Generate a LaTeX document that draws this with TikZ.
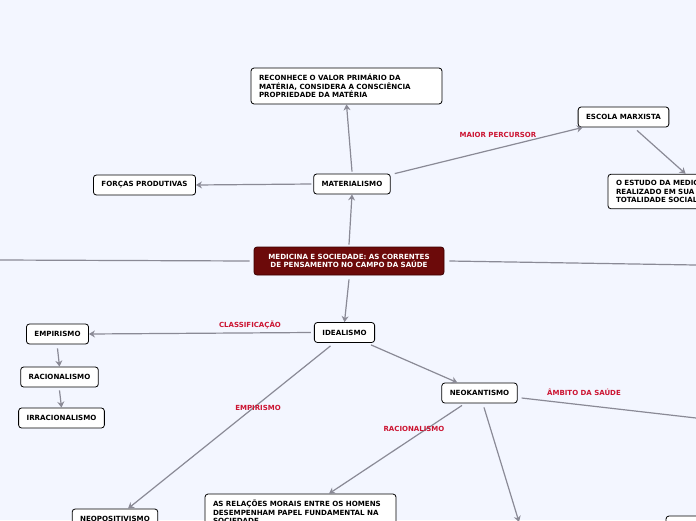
\documentclass[tikz,border=0pt]{standalone}
\usepackage{fontspec}
\setmainfont{DejaVu Sans}
\usetikzlibrary{arrows.meta,calc}
\definecolor{bg}{RGB}{243,246,255}
\definecolor{linec}{RGB}{138,138,150}
\definecolor{lblc}{RGB}{204,20,50}
\definecolor{cenfill}{RGB}{108,10,10}
\definecolor{cenborder}{RGB}{60,0,0}
\begin{document}
\begin{tikzpicture}[x=1pt,y=-1pt,
  font=\bfseries\fontsize{7.1}{8.6}\selectfont,
  box/.style={draw=black, fill=white, rounded corners=3pt, line width=0.8pt, inner xsep=8pt, minimum height=20pt},
  mbox/.style={box, text width=175pt, align=left, inner ysep=6pt},
  cenbox/.style={draw=cenborder, fill=cenfill, text=white, rounded corners=3pt, line width=0.8pt, text width=174pt, align=center, minimum height=28pt, inner xsep=8pt},
  conn/.style={draw=linec, line width=1.2pt, -{Stealth[length=6pt,width=7pt]}},
  plain/.style={draw=linec, line width=1.2pt},
  lbl/.style={text=lblc, font=\bfseries\fontsize{7}{8}\selectfont, inner sep=0pt}]
\useasboundingbox (0,0) rectangle (696,520);
\fill[bg] (0,0) rectangle (696,520);
\clip (0,0) rectangle (696,520);

% nodes
\node[cenbox] (cen) at (349,261) {MEDICINA E SOCIEDADE: AS CORRENTES\\DE PENSAMENTO NO CAMPO DA SAÚDE};
\node[box] (mat) at (352,184) {MATERIALISMO};
\node[mbox] (rec) at (346.5,86) {RECONHECE O VALOR PRIMÁRIO DA\\MATÉRIA, CONSIDERA A CONSCIÊNCIA\\PROPRIEDADE DA MATÉRIA};
\node[box] (for) at (144.5,185) {FORÇAS PRODUTIVAS};
\node[box] (esc) at (623.5,117) {ESCOLA MARXISTA};
\node[mbox] (est) at (703.5,191.5) {O ESTUDO DA MEDICINA DEVE SER\\REALIZADO EM SUA\\TOTALIDADE SOCIAL};
\node[box] (ide) at (344.5,332.5) {IDEALISMO};
\node[box] (emp) at (57.5,334) {EMPIRISMO};
\node[box] (rac) at (59.5,377) {RACIONALISMO};
\node[box] (irr) at (61.5,418) {IRRACIONALISMO};
\node[box] (neok) at (479.5,393) {NEOKANTISMO};
\node[box] (neop) at (115,519) {NEOPOSITIVISMO};
\node[mbox] (rel) at (300.5,512) {AS RELAÇÕES MORAIS ENTRE OS HOMENS\\DESEMPENHAM PAPEL FUNDAMENTAL NA\\SOCIEDADE};
\node[box, minimum width=100pt] (brb) at (716,526) {};

\coordinate (leftend) at (0,260);
\coordinate (rightend) at (696,265);
\coordinate (neokright) at (696,418);
\coordinate (neokdown) at (519,522);

% connectors
\draw[conn] ([yshift=2pt]cen.north) -- (mat.south);
\draw[conn] ([yshift=2pt]mat.north) -- (rec.south);
\draw[conn] ([xshift=-2pt]mat.west) -- (for.east);
\draw[conn] ([xshift=4pt]mat.north east) -- ([xshift=5pt]esc.south west);
\draw[conn] ([xshift=13.5pt,yshift=-3pt]esc.south) -- ([xshift=78pt]est.north west);
\draw[plain] ([xshift=-4pt]cen.west) -- (leftend);
\draw[plain] ([xshift=5pt]cen.east) -- (rightend);
\draw[conn] ([yshift=-4pt]cen.south) -- (ide.north);
\draw[conn] ([xshift=-3pt]ide.west) -- (emp.east);
\draw[conn] ([yshift=-4pt]emp.south) -- (rac.north);
\draw[conn] ([yshift=-3pt]rac.south) -- (irr.north);
\draw[conn] ([xshift=-14pt,yshift=-3pt]ide.south) -- ([xshift=13pt]neop.north);
\draw[conn] ([xshift=-4pt,yshift=-2pt]ide.south east) -- ([xshift=16pt]neok.north west);
\draw[conn] ([xshift=-17.5pt,yshift=-2pt]neok.south) -- ([xshift=28.5pt]rel.north);
\draw[conn] ([xshift=4.5pt,yshift=-4pt]neok.south) -- (neokdown);
\draw[plain] ([xshift=4pt,yshift=-5pt]neok.east) -- (neokright);

% labels
\node[lbl] (l1) at (498,135) {MAIOR PERCURSOR};
\node[lbl] (l2) at (250,325) {CLASSIFICAÇÃO};
\node[lbl] (l3) at (258,407.5) {EMPIRISMO};
\node[lbl] (l4) at (414,429) {RACIONALISMO};
\node[lbl] (l5) at (584,392.5) {ÂMBITO DA SAÚDE};
\end{tikzpicture}
\end{document}
